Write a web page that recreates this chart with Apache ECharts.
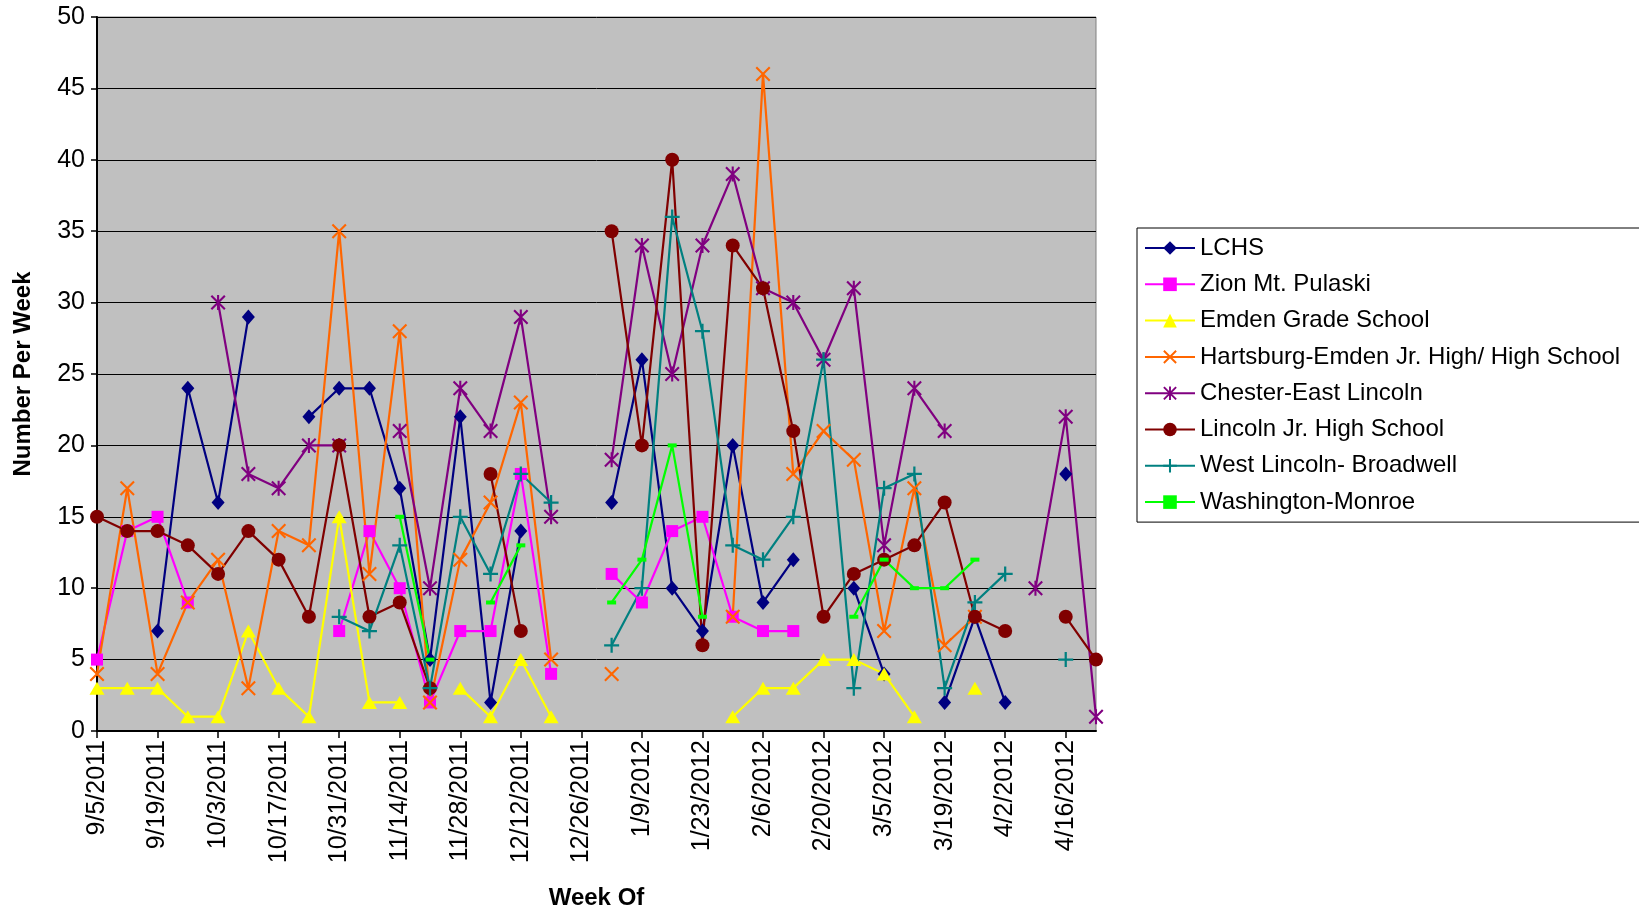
<!DOCTYPE html>
<html>
<head>
<meta charset="utf-8">
<script src="https://cdn.jsdelivr.net/npm/echarts@6/dist/echarts.min.js"></script>
<style>
html,body{margin:0;padding:0;background:#fff;}
#chart{width:1639px;height:911px;}
</style>
</head>
<body>
<div id="chart"></div>
<script>
const weeks = ['9/5/2011','9/12/2011','9/19/2011','9/26/2011','10/3/2011','10/10/2011','10/17/2011','10/24/2011','10/31/2011','11/7/2011','11/14/2011','11/21/2011','11/28/2011','12/5/2011','12/12/2011','12/19/2011','12/26/2011','1/2/2012','1/9/2012','1/16/2012','1/23/2012','1/30/2012','2/6/2012','2/13/2012','2/20/2012','2/27/2012','3/5/2012','3/12/2012','3/19/2012','3/26/2012','4/2/2012','4/9/2012','4/16/2012','4/23/2012'];

const lchs = [null,null,7,24,16,29,null,22,24,24,17,5,22,2,14,null,null,16,26,10,7,20,9,12,null,10,4,null,2,8,2,null,18,null];
const zion = [5,14,15,9,null,null,null,null,7,14,10,2,7,7,18,4,null,11,9,14,15,8,7,7,null,null,null,null,null,null,null,null,null,null];
const emdenGrade = [3,3,3,1,1,7,3,1,15,2,2,null,3,1,5,1,null,null,null,null,null,1,3,3,5,5,4,1,null,3,null,null,null,null];
const hartsburg = [4,17,4,9,12,3,14,13,35,11,28,2,12,16,23,5,null,4,null,null,null,8,46,18,21,19,7,17,6,8,null,null,null,null];
const chester = [null,null,null,null,30,18,17,20,20,null,21,10,24,21,29,15,null,19,34,25,34,39,31,30,26,31,13,24,21,null,null,10,22,1];
const lincolnJr = [15,14,14,13,11,14,12,8,20,8,9,3,null,18,7,null,null,35,20,40,6,34,31,21,8,11,12,13,16,8,7,null,8,5];
const westLincoln = [null,null,null,null,null,null,null,null,8,7,13,3,15,11,18,16,null,6,10,36,28,13,12,15,26,3,17,18,3,9,11,null,5,null];
const washington = [null,null,null,null,null,null,null,null,null,null,15,5,null,9,13,null,null,9,12,20,8,null,null,null,null,8,12,10,10,12,null,null,null,null];

const seriesNames = ['LCHS','Zion Mt. Pulaski','Emden Grade School','Hartsburg-Emden Jr. High/ High School','Chester-East Lincoln','Lincoln Jr. High School','West Lincoln- Broadwell','Washington-Monroe'];
const seriesData = [lchs, zion, emdenGrade, hartsburg, chester, lincolnJr, westLincoln, washington];

const xPath = 'path://M0,2L2,0L20,18L18,20Z M18,0L20,2L2,20L0,18Z';
const starPath = 'path://M8.6,0H11.4V20H8.6Z M0,2L2,0L20,18L18,20Z M18,0L20,2L2,20L0,18Z';
const plusPath = 'path://M8.5,0H11.5V20H8.5Z M0,8.5H20V11.5H0Z';

const styles = [
  {color:'#000080', symbol:'diamond', size:[13,15]},
  {color:'#FF00FF', symbol:'rect', size:[12,12]},
  {color:'#FFFF00', symbol:'triangle', size:[15,13]},
  {color:'#FF6600', symbol:xPath, size:[15,15]},
  {color:'#800080', symbol:starPath, size:[15,15]},
  {color:'#800000', symbol:'circle', size:[14,14]},
  {color:'#008080', symbol:plusPath, size:[15,15]},
  {color:'#00FF00', symbol:'rect', size:[9,4]}
];

const series = seriesNames.map((n,i)=>({
  name:n,
  type:'line',
  data:seriesData[i],
  connectNulls:false,
  showSymbol:true,
  showAllSymbol:true,
  symbol:styles[i].symbol,
  symbolSize:styles[i].size,
  lineStyle:{color:styles[i].color,width:2.2},
  itemStyle:{color:styles[i].color,borderWidth:0},
  emphasis:{disabled:true},
  animation:false
}));

const chart = echarts.init(document.getElementById('chart'));
chart.setOption({
  animation:false,
  textStyle:{fontFamily:'Liberation Sans, Arial, sans-serif'},
  grid:{left:97,right:543,top:17,bottom:180,outerBoundsMode:'none',containLabel:false,show:true,backgroundColor:'#C0C0C0',borderColor:'#808080',borderWidth:1},
  legend:{
    orient:'vertical',
    left:1137,
    top:228,
    padding:[8,200,8,7],
    backgroundColor:'#ffffff',
    borderColor:'#000000',
    borderWidth:1,
    borderRadius:0,
    itemWidth:50,
    itemHeight:17,
    itemGap:12.3,
    textStyle:{fontSize:24,color:'#000',fontFamily:'Liberation Sans, Arial, sans-serif'},
    data:seriesNames
  },
  xAxis:{
    type:'category',
    data:weeks,
    boundaryGap:false,
    name:'Week Of',
    nameLocation:'middle',
    nameGap:155,
    nameTextStyle:{fontSize:24,fontWeight:'bold',color:'#000'},
    axisLine:{show:true,onZero:false,lineStyle:{color:'#000',width:2}},
    axisTick:{show:true,interval:1,length:7,lineStyle:{color:'#000',width:1.5}},
    axisLabel:{interval:1,rotate:90,fontSize:25,color:'#000',margin:9},
    splitLine:{show:false}
  },
  yAxis:{
    type:'value',
    min:0,max:50,interval:5,
    name:'Number Per Week',
    nameLocation:'middle',
    nameGap:62,
    nameRotate:90,
    nameTextStyle:{fontSize:24,fontWeight:'bold',color:'#000'},
    axisLine:{show:true,lineStyle:{color:'#000',width:2}},
    axisTick:{show:true,length:6,lineStyle:{color:'#000',width:1.5}},
    axisLabel:{fontSize:25,color:'#000',margin:12},
    splitLine:{show:true,lineStyle:{color:'#000',width:1}}
  },
  series:series
});
</script>
</body>
</html>
